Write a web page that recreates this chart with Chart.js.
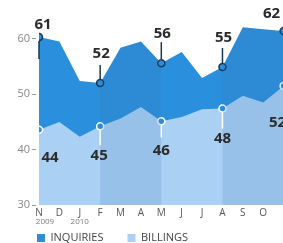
<!DOCTYPE html>
<html>
<head>
<meta charset="utf-8">
<script src="https://cdn.jsdelivr.net/npm/chart.js@4"></script>
<style>
  html, body { margin: 0; padding: 0; background: #fff; }
  #wrap { width: 283px; height: 243px; }
</style>
</head>
<body>
<div id="wrap"><canvas id="chart"></canvas></div>
<script>
// months Nov 2009 - Nov 2010
const months = ['N', 'D', 'J', 'F', 'M', 'A', 'M', 'J', 'J', 'A', 'S', 'O', 'N'];
const years = ['2009', '', '2010', '', '', '', '', '', '', '', '', '', ''];
const inquiries = [60.3, 59.5, 52.4, 52, 58.4, 59.5, 55.6, 57.6, 52.9, 54.9, 62.1, 61.7, 61.4];
const billings = [43.6, 45.0, 42.3, 44.2, 45.6, 47.7, 45.1, 45.9, 47.3, 47.4, 49.7, 48.5, 51.5];
const markedIdx = [0, 3, 6, 9, 12];
const inquiryLabels = ['61', '52', '56', '55', '62'];
const billingLabels = ['44', '45', '46', '48', '52'];
const yTicks = [30, 40, 50, 60];

// label placement relative to the point (dx, dy) and leader line (from, to)
const inqPlace = [
  { dx: 4, dy: -12, line: [4, 22] },
  { dx: 1, dy: -29, line: [-18, -4] },
  { dx: 1, dy: -29, line: [-21, -4] },
  { dx: 1, dy: -29, line: [-19, -4] },
  { dx: -12, dy: -17, line: [-6, -4] }
];
const billPlace = [
  { dx: 11, dy: 28, line: null },
  { dx: -1, dy: 29, line: [4, 19] },
  { dx: 0, dy: 29, line: [4, 16] },
  { dx: 0, dy: 30, line: [4, 20] },
  { dx: -6, dy: 37, line: null }
];

const FONT = "'Open Sans', sans-serif";
const BLUE = '#2a8fdc';
const LIGHT = '#aad1f3';

// darker quarter bands over the filled areas
const bandsPlugin = {
  id: 'bands',
  beforeDraw(chart) {
    // pull the legend up under the month labels
    chart.legend.top = chart.chartArea.bottom + 3.5;
  },
  afterDatasetsDraw(chart) {
    const { ctx, chartArea } = chart;
    const x = chart.scales.x;
    ctx.save();
    ctx.beginPath();
    ctx.rect(chartArea.left, chartArea.top, chartArea.right - chartArea.left, chartArea.bottom - chartArea.top);
    ctx.clip();
    ctx.globalCompositeOperation = 'source-atop';
    ctx.fillStyle = 'rgba(60, 110, 180, 0.17)';
    [[3, 6], [9, 12]].forEach(([a, b]) => {
      const x1 = x.getPixelForValue(a);
      const x2 = x.getPixelForValue(b);
      ctx.fillRect(x1, chartArea.top, x2 - x1, chartArea.bottom - chartArea.top);
    });
    ctx.restore();
  }
};

// value labels, leader lines and year labels
const labelsPlugin = {
  id: 'valueLabels',
  afterDraw(chart) {
    const { ctx } = chart;
    const inqMeta = chart.getDatasetMeta(0);
    const billMeta = chart.getDatasetMeta(1);
    ctx.save();
    ctx.font = 'bold 15px ' + FONT;
    ctx.textAlign = 'center';
    ctx.textBaseline = 'middle';
    markedIdx.forEach((idx, i) => {
      const p = inqMeta.data[idx];
      const pl = inqPlace[i];
      ctx.strokeStyle = '#1b3650';
      ctx.lineWidth = 1.5;
      ctx.beginPath();
      ctx.moveTo(p.x, p.y + pl.line[0]);
      ctx.lineTo(p.x, p.y + pl.line[1]);
      ctx.stroke();
      ctx.fillStyle = '#2b2b2b';
      ctx.fillText(inquiryLabels[i], p.x + pl.dx, p.y + pl.dy);

      const q = billMeta.data[idx];
      const bl = billPlace[i];
      if (bl.line) {
        ctx.strokeStyle = '#ffffff';
        ctx.beginPath();
        ctx.moveTo(q.x, q.y + bl.line[0]);
        ctx.lineTo(q.x, q.y + bl.line[1]);
        ctx.stroke();
      }
      ctx.fillStyle = '#2b2b2b';
      ctx.fillText(billingLabels[i], q.x + bl.dx, q.y + bl.dy);
    });

    const x = chart.scales.x;
    ctx.font = '8px ' + FONT;
    ctx.fillStyle = '#777';
    years.forEach((y, i) => {
      if (!y) return;
      const px = x.getPixelForValue(i) + (i === 0 ? 6 : 0);
      ctx.fillText(y, px, x.top + 16.5);
    });
    ctx.restore();
  }
};

const pointR = ctx => markedIdx.includes(ctx.dataIndex) ? 3.5 : 0;

new Chart(document.getElementById('chart'), {
  type: 'line',
  data: {
    datasets: [
      {
        label: 'INQUIRIES',
        data: inquiries.map((v, i) => ({ x: i, y: v })),
        backgroundColor: BLUE,
        borderColor: BLUE,
        borderWidth: 0,
        fill: 'start',
        order: 2,
        pointRadius: pointR,
        pointBackgroundColor: BLUE,
        pointBorderColor: '#1b3650',
        pointBorderWidth: 1.5
      },
      {
        label: 'BILLINGS',
        data: billings.map((v, i) => ({ x: i, y: v })),
        backgroundColor: LIGHT,
        borderColor: LIGHT,
        borderWidth: 0,
        fill: 'start',
        order: 1,
        pointRadius: pointR,
        pointBackgroundColor: BLUE,
        pointBorderColor: '#ffffff',
        pointBorderWidth: 1.5
      }
    ]
  },
  options: {
    responsive: true,
    maintainAspectRatio: false,
    animation: false,
    layout: { autoPadding: false, padding: { left: 13, right: 0, top: 0, bottom: -24 } },
    plugins: {
      tooltip: { enabled: false },
      legend: {
        position: 'bottom',
        align: 'start',
        labels: {
          boxWidth: 8,
          boxHeight: 8,
          padding: 24,
          color: '#444',
          font: { family: FONT, size: 11 },
          sort: (a, b) => a.datasetIndex - b.datasetIndex
        }
      }
    },
    scales: {
      x: {
        type: 'linear',
        min: 0,
        max: 11.97,
        afterFit: s => { s.height = 17; s.paddingLeft = 0; s.paddingRight = 0; },
        afterBuildTicks: s => { s.ticks = months.slice(0, 12).map((m, i) => ({ value: i })); },
        border: { display: false },
        grid: { display: false, drawTicks: false },
        ticks: {
          autoSkip: false,
          maxRotation: 0,
          padding: 2,
          color: '#555',
          font: { family: FONT, size: 10 },
          callback: v => months[v] || ''
        }
      },
      y: {
        min: 30,
        max: 67,
        afterFit: s => { s.width = 26; s.paddingTop = 0; s.paddingBottom = 0; },
        afterBuildTicks: s => { s.ticks = yTicks.map(v => ({ value: v })); },
        border: { display: false },
        grid: {
          drawOnChartArea: false,
          drawTicks: true,
          tickLength: 7,
          tickColor: '#999',
          tickBorderDash: [4, 3],
          tickWidth: 1
        },
        ticks: {
          padding: 2,
          color: '#888',
          font: { family: FONT, size: 11 }
        }
      }
    }
  },
  plugins: [bandsPlugin, labelsPlugin]
});
</script>
</body>
</html>
